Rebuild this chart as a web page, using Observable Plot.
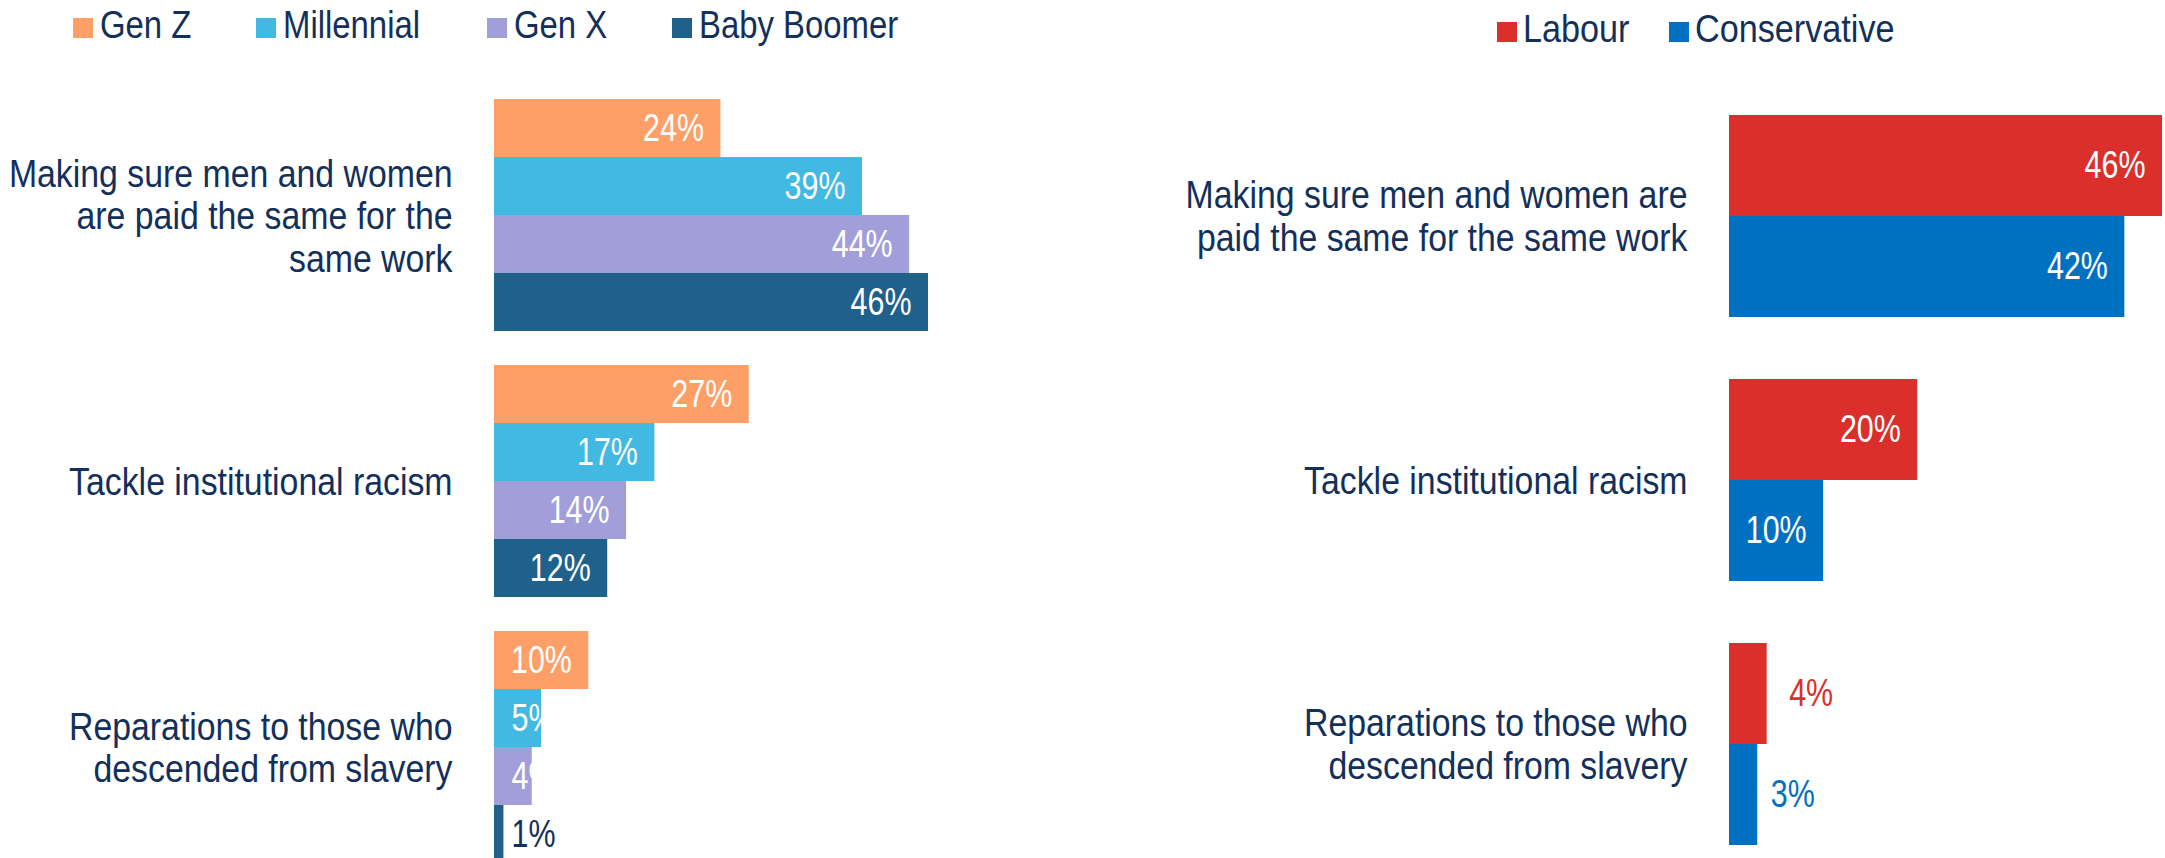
<!DOCTYPE html>
<html>
<head>
<meta charset="utf-8">
<script src="https://cdn.jsdelivr.net/npm/d3@7"></script>
<script src="https://cdn.jsdelivr.net/npm/@observablehq/plot@0.6"></script>
<style>
  html, body { margin: 0; padding: 0; background: #fff; overflow: hidden; }
  body { width: 2165px; height: 858px; position: relative;
         font-family: "Liberation Sans", Arial, sans-serif; color: #13305a; }
  .panel { position: absolute; top: 0; }
  #left { left: 0; width: 1000px; }
  #right { left: 1000px; width: 1165px; }
  .legend { position: relative; height: 50px; font-size: 38px; }
  .item { position: absolute; top: 0; height: 50px; }
  .sw { position: absolute; left: 0; width: 20px; height: 20px; }
  .lt { position: absolute; white-space: nowrap; line-height: 38px; transform-origin: 0 0; }
  svg { display: block; }
</style>
</head>
<body>
<div id="left" class="panel"><div class="legend" id="legL"></div></div>
<div id="right" class="panel"><div class="legend" id="legR"></div></div>
<script>
// ---- data ----
const categories = ["pay", "racism", "reparations"];
const leftLabels = ["Making sure men and women\nare paid the same for the\nsame work",
                    "Tackle institutional racism",
                    "Reparations to those who\ndescended from slavery"];
const rightLabels = ["Making sure men and women are\npaid the same for the same work",
                     "Tackle institutional racism",
                     "Reparations to those who\ndescended from slavery"];
const generations = ["Gen Z", "Millennial", "Gen X", "Baby Boomer"];
const genZ = [24, 27, 10];
const millennial = [39, 17, 5];
const genX = [44, 14, 4];
const babyBoomer = [46, 12, 1];
const parties = ["Labour", "Conservative"];
const labour = [46, 20, 4];
const conservative = [42, 10, 3];

const genColors = ["#FF9F68", "#41B9E2", "#A29ED9", "#20618C"];
const partyColors = ["#DA2F2B", "#0070C0"];
const navy = "#13305a";
const font = '"Liberation Sans", Arial, sans-serif';
const VAL_SIZE = 39, CAT_SIZE = 38;

// ---- tables ----
const genSeries = [genZ, millennial, genX, babyBoomer];
const genRows = categories.flatMap((c, i) => generations.map((g, j) => ({category: c, series: g, value: genSeries[j][i]})));
const partySeries = [labour, conservative];
const partyRows = categories.flatMap((c, i) => parties.map((p, j) => ({category: c, series: p, value: partySeries[j][i]})));
const pct = d => d.value + "%";

// ---- legends ----
function legend(el, names, colors, lefts, swTop, textTop, textLeft, squeeze) {
  names.forEach((n, i) => {
    const it = document.createElement("div");
    it.className = "item";
    it.style.left = lefts[i] + "px";
    it.innerHTML = `<span class="sw" style="top:${swTop}px;background:${colors[i]}"></span>` +
      `<span class="lt" style="left:${textLeft}px;top:${textTop}px;transform:scaleX(${squeeze})">${n}</span>`;
    el.appendChild(it);
  });
}
legend(document.getElementById("legL"), generations, genColors, [73, 256, 487, 672], 18, 6, 27, 0.865);
legend(document.getElementById("legR"), parties, partyColors, [497, 669], 22, 10, 26, 0.9);

// condense text glyphs horizontally around their anchor (selected by the group's font-size)
function squeeze(svg, size, s) {
  svg.querySelectorAll(`g[font-size="${size}"] text`).forEach(t => {
    let tr = t.getAttribute("transform");
    if (!tr) {
      const x = +t.getAttribute("x") || 0, y = +t.getAttribute("y") || 0;
      t.removeAttribute("x"); t.removeAttribute("y");
      tr = `translate(${x},${y})`;
    }
    t.setAttribute("transform", tr + ` scale(${s},1)`);
  });
}

// ---- left chart ----
const left = Plot.plot({
  width: 1000, height: 820,
  marginLeft: 494, marginRight: 72, marginTop: 49, marginBottom: 7,
  style: {fontFamily: font, background: "white"},
  x: {domain: [0, 46], axis: null},
  y: {domain: generations, padding: 0, axis: null},
  fy: {domain: categories, paddingInner: 0.128, paddingOuter: 0, axis: null},
  color: {domain: generations, range: genColors},
  marks: [
    Plot.barX(genRows, {fy: "category", y: "series", x: "value", fill: "series"}),
    Plot.text(genRows.filter(d => d.value >= 10), {fy: "category", y: "series", x: "value", text: pct,
      textAnchor: "end", dx: -17, fill: "white", fontSize: VAL_SIZE}),
    Plot.text(genRows.filter(d => d.value < 10 && d.value >= 2), {fy: "category", y: "series", x: 0, text: pct,
      textAnchor: "start", dx: 17, fill: "white", fontSize: VAL_SIZE}),
    Plot.text(genRows.filter(d => d.value < 2), {fy: "category", y: "series", x: 0, text: pct,
      textAnchor: "start", dx: 17, fill: navy, fontSize: VAL_SIZE}),
    Plot.text(categories, {fy: d => d, text: (d, i) => leftLabels[i], frameAnchor: "left",
      textAnchor: "end", dx: -42, lineHeight: 1.12, fontSize: CAT_SIZE, fill: navy})
  ]
});
squeeze(left, VAL_SIZE, 0.78);
squeeze(left, CAT_SIZE, 0.89);
document.getElementById("left").appendChild(left);

// ---- right chart ----
const right = Plot.plot({
  width: 1165, height: 820,
  marginLeft: 729, marginRight: 3, marginTop: 63, marginBottom: 23,
  style: {fontFamily: font, background: "white"},
  x: {domain: [0, 46], axis: null},
  y: {domain: parties, padding: 0, axis: null},
  fy: {domain: categories, paddingInner: 0.23, paddingOuter: 0, axis: null},
  color: {domain: parties, range: partyColors},
  marks: [
    Plot.barX(partyRows, {fy: "category", y: "series", x: "value", fill: "series"}),
    Plot.text(partyRows.filter(d => d.value >= 10), {fy: "category", y: "series", x: "value", text: pct,
      textAnchor: "end", dx: -17, fill: "white", fontSize: VAL_SIZE}),
    Plot.text(partyRows.filter(d => d.value < 10 && d.series === "Labour"), {fy: "category", y: "series", x: "value", text: pct,
      textAnchor: "start", dx: 22, fill: partyColors[0], fontSize: VAL_SIZE}),
    Plot.text(partyRows.filter(d => d.value < 10 && d.series === "Conservative"), {fy: "category", y: "series", x: "value", text: pct,
      textAnchor: "start", dx: 13, fill: partyColors[1], fontSize: VAL_SIZE}),
    Plot.text(categories, {fy: d => d, text: (d, i) => rightLabels[i], frameAnchor: "left",
      textAnchor: "end", dx: -42, lineHeight: 1.12, fontSize: CAT_SIZE, fill: navy})
  ]
});
squeeze(right, VAL_SIZE, 0.78);
squeeze(right, CAT_SIZE, 0.89);
document.getElementById("right").appendChild(right);
</script>
</body>
</html>
